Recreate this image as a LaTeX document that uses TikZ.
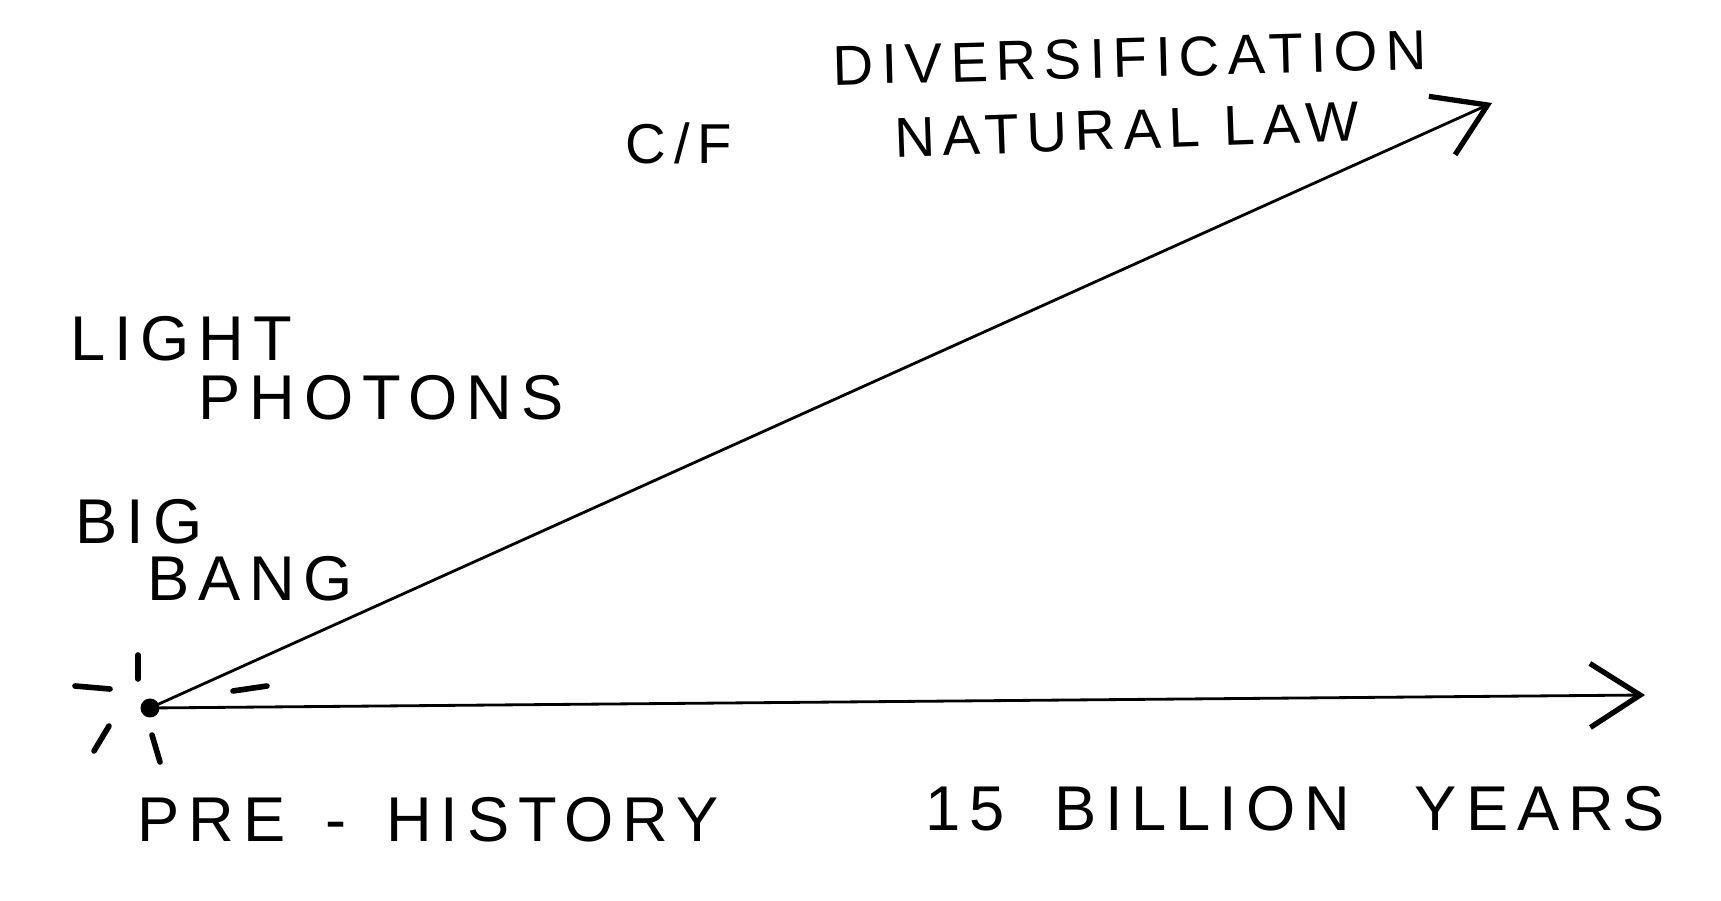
\documentclass[tikz,border=0pt]{standalone}
\usepackage{fontspec}
\newfontfamily\handfont[LetterSpace=14]{Liberation Sans}
\usetikzlibrary{arrows.meta}

\begin{document}
\begin{tikzpicture}[
	hand/.style={font=\handfont\fontsize{18}{20}\selectfont, inner sep=0pt},
	handsmall/.style={font=\handfont\fontsize{16}{18}\selectfont, inner sep=0pt},
	axis/.style={line width=0.8pt},
	barb/.style={-{Straight Barb[length=0.5cm,width=0.64cm,line width=1.5pt]}},
	ray/.style={line width=1.6pt, line cap=round}
]
	\useasboundingbox (0,0) rectangle (17.21,9.01);

	\node[circle,fill,inner sep=0pt,minimum size=0.19cm] (bang) at (1.50,1.93) {};
	\coordinate (now) at (16.45,2.06);
	\coordinate (law) at (14.92,7.98);

	\node[handsmall,rotate=1.5] (div) at (11.30,8.43) {DIVERSIFICATION};
	\node[handsmall,rotate=2] (nat) at (11.27,7.71) {NATURAL LAW};
	\node[handsmall] (cf) at (6.79,7.58) {C/F};
	\node[hand] (light) at (1.81,5.62) {LIGHT};
	\node[hand] (photons) at (3.81,5.03) {PHOTONS};
	\node[hand] (big) at (1.39,3.79) {BIG};
	\node[hand] (bng) at (2.50,3.22) {BANG};
	\node[hand] (pre) at (4.28,0.81) {PRE\hspace{0.4cm}-\hspace{0.4cm}HISTORY};
	\node[hand] (years) at (12.95,0.92) {15\hspace{0.5cm}BILLION\hspace{0.65cm}YEARS};

	% rays round the big bang
	\draw[ray] (0.75,2.15) -- (1.10,2.12);
	\draw[ray] (1.38,2.46) -- (1.38,2.22);
	\draw[ray] (2.33,2.10) -- (2.67,2.15);
	\draw[ray] (1.09,1.75) -- (0.94,1.50);
	\draw[ray] (1.52,1.66) -- (1.60,1.39);

	\path[axis,barb]
		(bang.center) edge (now)
		(bang.center) edge (law);
\end{tikzpicture}
\end{document}
